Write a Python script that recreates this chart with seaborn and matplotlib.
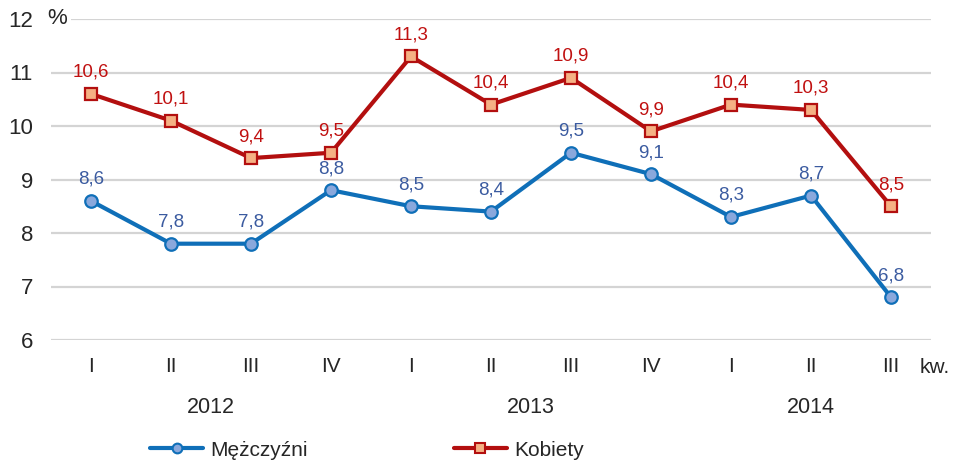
import matplotlib
matplotlib.use("Agg")
import matplotlib.pyplot as plt
import matplotlib.transforms as mtransforms
from matplotlib.lines import Line2D
import seaborn as sns
import pandas as pd
import numpy as np

quarters = ["I", "II", "III", "IV", "I", "II", "III", "IV", "I", "II", "III"]
years = ["2012", "2013", "2014"]
year_pos = [1.5, 5.5, 9.0]
men = [8.6, 7.8, 7.8, 8.8, 8.5, 8.4, 9.5, 9.1, 8.3, 8.7, 6.8]
women = [10.6, 10.1, 9.4, 9.5, 11.3, 10.4, 10.9, 9.9, 10.4, 10.3, 8.5]
series_names = ["Mężczyźni", "Kobiety"]
yticks = [6, 7, 8, 9, 10, 11, 12]

sns.set_theme(style="white")
plt.rcParams['font.family'] = ['Liberation Sans', 'DejaVu Sans']

idx = np.arange(len(quarters))
df = pd.DataFrame({
    "x": np.concatenate([idx, idx]),
    "val": men + women,
    "grp": [series_names[0]] * len(men) + [series_names[1]] * len(women),
})

fig = plt.figure(figsize=(9.58, 4.63), dpi=100)
ax = fig.add_axes([51/958, 1 - 340/463, (931-51)/958, (340-19)/463])

line_col = {series_names[0]: "#0F6FB8", series_names[1]: "#B30F0F"}
face_col = {series_names[0]: "#8AA8DC", series_names[1]: "#F5B184"}
lbl_col = {series_names[0]: "#3B5BA0", series_names[1]: "#C01010"}
marks = {series_names[0]: "o", series_names[1]: "s"}

sns.lineplot(data=df, x="x", y="val", hue="grp", style="grp",
             palette=line_col, markers=marks, dashes=False, linewidth=3,
             markersize=9, ax=ax, legend=False)

for ln in ax.get_lines():
    c = matplotlib.colors.to_hex(ln.get_color())
    for k, v in line_col.items():
        if matplotlib.colors.to_hex(v) == c:
            ln.set_markerfacecolor(face_col[k])
            ln.set_markeredgecolor(line_col[k])
            ln.set_markeredgewidth(1.6)

for name, vals in zip(series_names, [men, women]):
    for i, v in enumerate(vals):
        ax.annotate(f"{v:.1f}".replace(".", ","), (i, v), xytext=(0, 15.5),
                    textcoords="offset points", ha="center", va="center",
                    fontsize=13.5, color=lbl_col[name])

ax.set_xlim(-0.5, 10.5)
ax.set_ylim(6, 12)
ax.set_yticks(yticks)
ax.set_yticklabels([str(t) for t in yticks], fontsize=16)
ax.set_xticks(idx)
ax.set_xticklabels(quarters, fontsize=15)
ax.tick_params(axis="y", length=0, pad=13)
ax.tick_params(axis="x", length=0, pad=12)
ax.grid(axis="y", color="#D4D4D4", linewidth=1.6)
ax.set_axisbelow(True)
for s in ax.spines.values():
    s.set_visible(False)
ax.set_xlabel("")
ax.set_ylabel("")

trans = mtransforms.blended_transform_factory(ax.transData, ax.transAxes)
for y, p in zip(years, year_pos):
    ax.text(p, -0.21, y, transform=trans, ha="center", va="center", fontsize=15.5)

ax.text(10.36, -0.085, "kw.", transform=trans, ha="left", va="center", fontsize=15)
fig.text(57/958, 1 - 19/463, "%", ha="center", va="center", fontsize=16,
         bbox=dict(facecolor="white", edgecolor="none", pad=3))

handles = [Line2D([], [], color=line_col[n], linewidth=3, marker=marks[n], markersize=7,
                  markerfacecolor=face_col[n], markeredgecolor=line_col[n], markeredgewidth=1.5)
           for n in series_names]
fig.legend(handles, series_names, loc="center", bbox_to_anchor=(0.383, 1 - 450/463), ncol=2,
           frameon=False, fontsize=15, handlelength=2.55, handletextpad=0.35, columnspacing=7.0)

fig.savefig("out.png", dpi=100)
